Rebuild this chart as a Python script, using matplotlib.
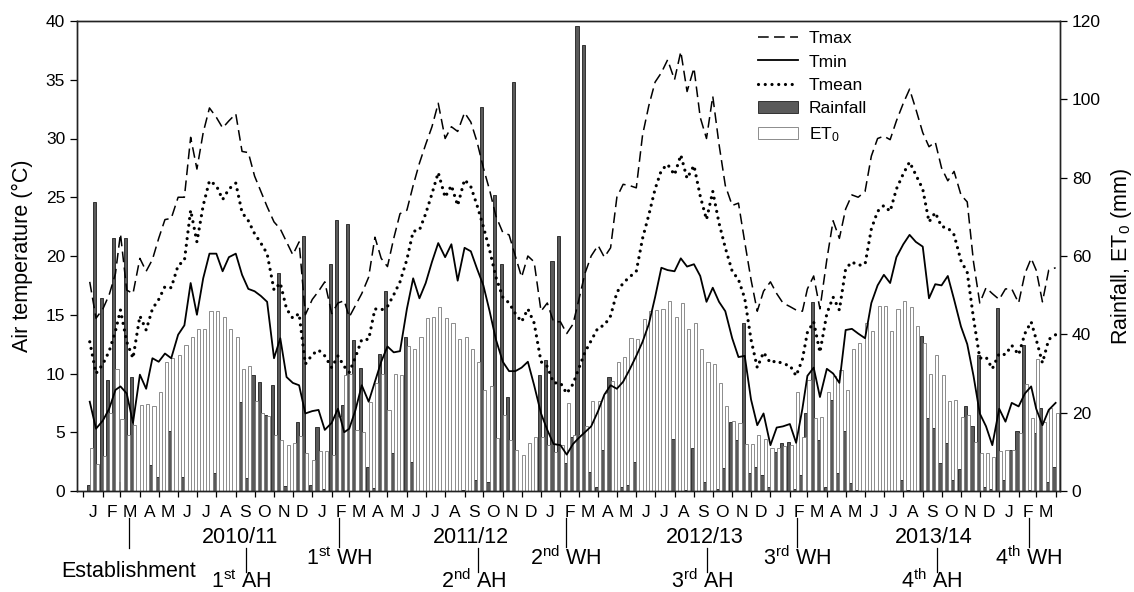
import pandas as pd
import matplotlib
matplotlib.use("Agg")
import matplotlib.pyplot as plt
import matplotlib.dates as mdates
import matplotlib.transforms as mtransforms
from matplotlib.ticker import NullFormatter, FuncFormatter, MultipleLocator

plt.rcParams["font.family"] = ["Liberation Sans", "DejaVu Sans"]
plt.rcParams["mathtext.fontset"] = "custom"
plt.rcParams["mathtext.rm"] = "Liberation Sans"
plt.rcParams["mathtext.it"] = "Liberation Sans:italic"

# ten-day (dekad) values, Jan 2010 - Mar 2014, three per month
tmax = [
    # 2010
    17.8, 14.7, 15.5, 16.7, 18.5, 21.9, 17.1, 16.8, 19.8, 18.7, 19.7, 21.5,
    23.1, 23.2, 25.0, 25.0, 30.1, 27.4, 30.5, 32.6, 31.8, 30.9, 31.5, 32.1,
    28.9, 28.8, 26.8, 25.5, 24.2, 22.9, 22.3, 21.2, 20.1, 21.2, 15.0, 16.3,
    # 2011
    17.0, 17.8, 15.1, 16.0, 16.2, 14.8, 15.8, 16.8, 18.2, 21.6, 19.8, 19.1,
    21.5, 23.6, 23.9, 26.0, 27.9, 29.5, 31.0, 33.0, 30.0, 31.0, 30.6, 32.2,
    31.4, 29.7, 27.5, 25.6, 23.4, 22.0, 21.8, 20.0, 18.2, 20.0, 19.5, 15.3,
    # 2012
    16.0, 14.4, 14.4, 13.4, 14.2, 16.2, 18.5, 20.0, 20.9, 19.9, 20.7, 25.0,
    26.1, 26.0, 25.8, 30.3, 32.8, 34.8, 35.6, 36.7, 35.0, 37.4, 34.0, 36.0,
    31.8, 30.0, 33.6, 29.5, 26.0, 24.3, 24.5, 21.2, 18.0, 15.3, 17.0, 17.8,
    # 2013
    16.8, 16.0, 15.7, 15.4, 15.3, 17.2, 18.3, 15.5, 19.7, 23.0, 21.5, 24.0,
    25.2, 25.0, 25.5, 28.5, 30.0, 30.2, 29.9, 31.5, 33.0, 34.2, 32.5, 30.5,
    29.3, 29.7, 27.5, 26.4, 27.2, 25.2, 24.6, 19.5, 16.0, 17.3, 16.8, 16.3,
    # 2014
    17.2, 17.2, 16.0, 18.5, 19.8, 18.8, 16.1, 18.8, 19.0,
]

tmin = [
    7.6, 5.3, 6.0, 7.0, 8.6, 8.9, 8.3, 5.8, 9.9, 8.7, 11.3, 11.0,
    11.7, 11.3, 13.3, 14.1, 17.7, 15.0, 18.1, 20.2, 20.2, 18.7, 19.9, 20.2,
    18.4, 17.2, 17.0, 16.6, 16.1, 11.3, 13.0, 9.7, 9.2, 9.0, 6.6, 6.8,
    6.9, 5.2, 5.8, 7.0, 5.0, 5.3, 6.9, 9.0, 7.6, 9.3, 11.0, 12.3,
    11.8, 11.9, 15.5, 18.1, 16.4, 17.7, 19.5, 21.1, 19.9, 21.0, 17.9, 20.7,
    20.4, 18.9, 17.5, 15.3, 12.9, 11.0, 10.2, 10.2, 10.5, 11.0, 9.0, 6.6,
    5.2, 4.0, 3.9, 3.1, 4.0, 4.5, 5.0, 5.5, 6.8, 8.2, 9.0, 8.7,
    9.3, 10.3, 11.5, 12.7, 14.2, 16.5, 19.0, 18.8, 18.7, 19.8, 19.1, 19.3,
    18.3, 16.1, 17.3, 16.1, 15.3, 13.0, 11.4, 11.5, 7.8, 5.6, 6.6, 3.9,
    5.4, 5.5, 5.7, 4.1, 7.0, 9.8, 10.5, 8.0, 10.4, 10.0, 9.2, 13.7,
    13.8, 13.4, 13.0, 16.0, 17.5, 18.4, 17.7, 19.9, 21.0, 21.8, 21.2, 20.8,
    16.4, 17.6, 17.5, 18.3, 16.3, 14.0, 12.5, 9.8, 6.6, 5.5, 3.9, 7.0,
    5.9, 7.5, 7.2, 8.3, 8.9, 7.0, 5.6, 6.9, 7.5,
]

tmean = [
    12.7, 10.0, 10.8, 11.9, 13.6, 15.4, 12.7, 11.3, 14.9, 13.7, 15.5, 16.3,
    17.4, 17.3, 19.2, 19.6, 23.9, 21.2, 24.3, 26.4, 26.0, 24.8, 25.7, 26.2,
    23.7, 23.0, 21.9, 21.1, 20.2, 17.1, 17.7, 15.5, 14.7, 15.1, 10.8, 11.6,
    12.0, 11.5, 10.5, 11.5, 10.6, 10.1, 11.4, 12.9, 12.9, 15.5, 15.4, 15.7,
    16.7, 17.8, 19.7, 22.1, 22.2, 23.6, 25.3, 27.1, 25.0, 26.0, 24.3, 26.5,
    25.9, 24.3, 22.5, 20.5, 18.2, 16.5, 16.0, 15.1, 14.4, 15.5, 14.3, 11.0,
    10.6, 9.2, 9.2, 8.3, 9.1, 10.4, 11.8, 12.8, 13.9, 14.1, 14.9, 16.9,
    17.7, 18.2, 18.7, 21.5, 23.5, 25.7, 27.3, 27.8, 26.9, 28.6, 26.6, 27.7,
    25.1, 23.1, 25.5, 22.8, 20.7, 18.7, 18.0, 16.4, 12.9, 10.5, 11.8, 10.9,
    11.1, 10.8, 10.7, 9.8, 11.2, 13.5, 14.4, 11.8, 15.1, 16.5, 15.4, 18.9,
    19.5, 19.2, 19.3, 22.3, 23.8, 24.3, 23.8, 25.7, 27.0, 28.0, 26.9, 25.7,
    22.9, 23.7, 22.5, 22.4, 21.8, 19.6, 18.6, 14.7, 11.3, 11.4, 10.4, 11.7,
    11.6, 12.4, 11.6, 13.4, 14.4, 12.9, 10.9, 12.9, 13.3,
]

rainfall = [
    1.5, 73.9, 49.4, 28.3, 64.7, 2.4, 64.7, 29.2, 0.0, 0.0, 6.6, 3.7,
    0.0, 15.2, 0.0, 3.7, 0.0, 0.0, 0.0, 0.0, 4.5, 0.0, 0.0, 0.0,
    22.8, 3.3, 29.6, 27.9, 19.4, 27.0, 55.6, 1.2, 0.0, 17.5, 65.0, 1.5,
    16.4, 0.6, 57.9, 69.2, 22.0, 68.2, 38.6, 31.3, 6.2, 0.8, 35.1, 51.1,
    9.6, 0.0, 39.4, 7.5, 0.0, 0.0, 0.0, 0.0, 0.0, 0.0, 0.0, 0.3,
    0.0, 2.8, 98.1, 2.4, 75.6, 57.9, 24.1, 104.5, 0.0, 0.0, 0.0, 29.6,
    33.4, 58.7, 65.2, 7.1, 13.9, 118.8, 114.0, 4.9, 1.0, 10.5, 29.2, 0.0,
    1.0, 1.5, 7.5, 0.0, 0.0, 0.0, 0.0, 0.0, 13.4, 0.0, 0.3, 10.9,
    0.0, 2.4, 0.0, 0.5, 5.8, 17.7, 13.0, 42.8, 4.5, 6.2, 4.0, 1.0,
    10.0, 12.2, 12.4, 0.6, 4.0, 19.9, 48.2, 13.0, 1.0, 23.3, 4.5, 15.4,
    2.1, 0.3, 0.0, 0.0, 0.0, 0.0, 0.0, 0.0, 2.7, 0.2, 0.0, 39.6,
    18.6, 16.0, 7.1, 12.2, 2.7, 5.7, 21.8, 16.5, 34.7, 1.0, 0.4, 46.6,
    2.7, 10.5, 15.2, 37.4, 0.3, 14.7, 21.2, 2.3, 6.2,
]

et0 = [
    11.1, 6.9, 9.0, 19.8, 31.2, 18.3, 14.4, 16.8, 21.9, 22.2, 21.6, 25.2,
    33.0, 33.9, 34.8, 37.2, 39.3, 41.4, 41.4, 45.9, 45.9, 44.4, 41.4, 39.3,
    31.2, 31.8, 23.1, 19.8, 19.2, 14.4, 12.9, 11.7, 12.3, 14.1, 9.6, 7.8,
    10.2, 10.2, 9.3, 18.9, 29.7, 30.0, 15.6, 15.0, 22.8, 27.6, 30.0, 20.7,
    30.0, 29.7, 36.9, 36.3, 39.3, 44.1, 44.4, 47.1, 44.1, 42.9, 38.7, 39.3,
    36.3, 33.0, 25.8, 26.7, 13.5, 19.5, 12.9, 10.5, 9.3, 12.3, 13.8, 13.8,
    11.7, 9.9, 11.7, 22.5, 14.4, 14.4, 16.5, 23.1, 23.1, 24.9, 28.2, 33.0,
    34.2, 39.0, 38.7, 43.8, 45.9, 46.2, 46.5, 48.6, 44.4, 48.0, 41.4, 42.9,
    36.3, 33.0, 32.4, 27.6, 21.6, 18.0, 17.4, 12.0, 12.0, 14.4, 13.2, 10.9,
    11.0, 11.5, 11.7, 25.4, 13.9, 28.4, 18.6, 19.0, 25.4, 29.3, 31.0, 25.9,
    36.2, 37.9, 43.0, 40.9, 47.3, 47.3, 40.9, 46.4, 48.6, 46.9, 42.2, 37.9,
    30.0, 34.6, 29.7, 22.9, 23.3, 19.0, 19.5, 12.6, 9.6, 9.6, 8.7, 10.2,
    10.5, 10.5, 14.7, 27.2, 18.6, 33.6, 17.5, 21.2, 20.0,
]

# field events drawn under the axis
seasons = ["2010/11", "2011/12", "2012/13", "2013/14"]
season_dates = ["2010-09-07", "2011-09-11", "2012-09-19", "2013-09-18"]
est_date = "2010-03-14"
ah_labels = ["1$^{\\mathrm{st}}$ AH", "2$^{\\mathrm{nd}}$ AH",
             "3$^{\\mathrm{rd}}$ AH", "4$^{\\mathrm{th}}$ AH"]
ah_dates = ["2010-09-18", "2011-09-23", "2012-09-22", "2013-09-23"]
wh_labels = ["1$^{\\mathrm{st}}$ WH", "2$^{\\mathrm{nd}}$ WH",
             "3$^{\\mathrm{rd}}$ WH", "4$^{\\mathrm{th}}$ WH"]
wh_dates = ["2011-02-13", "2012-02-10", "2013-02-13", "2014-02-17"]

# dekad end dates
months = pd.period_range("2010-01", "2014-03", freq="M")
dekads = []
for p in months:
    s = p.start_time
    dekads += [s + pd.Timedelta(days=10), s + pd.Timedelta(days=20), (p + 1).start_time]
x = pd.DatetimeIndex(dekads)

fig = plt.figure(figsize=(11.34, 5.92), dpi=100)
ax = fig.add_axes([77 / 1134, 1 - 491 / 592, 983 / 1134, 470 / 592])
ax2 = ax.twinx()

bar_w = 5.0  # days
ax2.bar(x - pd.Timedelta(days=bar_w / 2), rainfall, width=bar_w, color="#5a5a5a",
        edgecolor="#1e1e1e", linewidth=0.6, label="Rainfall")
ax2.bar(x + pd.Timedelta(days=bar_w / 2), et0, width=bar_w, color="white",
        edgecolor="#7a7a7a", linewidth=0.6, label="ET$_0$")

ax.plot(x, tmax, color="black", lw=1.1, dashes=(7, 3.5), label="Tmax")
ax.plot(x, tmin, color="black", lw=1.3, label="Tmin")
ax.plot(x, tmean, color="black", lw=2.3, linestyle=(0, (0.01, 2.1)),
        dash_capstyle="round", label="Tmean")

ax.set_zorder(ax2.get_zorder() + 1)
ax.patch.set_visible(False)

ax.set_xlim(pd.Timestamp("2009-12-21 16:00"), pd.Timestamp("2014-04-08"))
ax.set_ylim(0, 40)
ax2.set_ylim(0, 120)
ax.yaxis.set_major_locator(MultipleLocator(5))
ax2.yaxis.set_major_locator(MultipleLocator(20))

ax.xaxis.set_major_locator(mdates.MonthLocator())
ax.xaxis.set_major_formatter(NullFormatter())
ax.xaxis.set_minor_locator(mdates.MonthLocator(bymonthday=16))
ax.xaxis.set_minor_formatter(FuncFormatter(lambda v, pos: mdates.num2date(v).strftime("%b")[0]))
ax.tick_params(axis="x", which="major", direction="out", length=4.5, width=0.9)
ax.tick_params(axis="x", which="minor", length=0, labelsize=12.5, pad=10)
ax.tick_params(axis="y", direction="out", length=5, width=0.9, labelsize=12.5)
ax2.tick_params(axis="y", direction="out", length=5, width=0.9, labelsize=12.5)

for a in (ax, ax2):
    for sp in a.spines.values():
        sp.set_linewidth(1.0)
        sp.set_color("#222222")

ax.set_ylabel("Air temperature (°C)", fontsize=15.5)
ax.yaxis.set_label_coords(-0.045, 0.5)
ax2.set_ylabel("Rainfall, ET$_0$ (mm)", fontsize=15.5)
ax2.yaxis.set_label_coords(1.05, 0.5)

h1, l1 = ax.get_legend_handles_labels()
h2, l2 = ax2.get_legend_handles_labels()
ax.legend(h1 + h2, l1 + l2, loc="upper left", bbox_to_anchor=(0.693, 0.979),
          frameon=False, fontsize=12.5, handlelength=2.3, handletextpad=0.6,
          labelspacing=0.48, borderpad=0, borderaxespad=0)

# annotations under the axis
trans = mtransforms.blended_transform_factory(ax.transData, fig.transFigure)
fs = 15.5
for lab, d in zip(seasons, season_dates):
    ax.text(pd.Timestamp(d), 0.083, lab, transform=trans, ha="center",
            va="baseline", fontsize=fs, clip_on=False)

d = pd.Timestamp(est_date)
ax.plot([d, d], [0.1245, 0.0743], transform=trans, color="black", lw=0.9, clip_on=False)
ax.text(d, 0.0253, "Establishment", transform=trans, ha="center", va="baseline",
        fontsize=fs, clip_on=False)

ah_trans = mtransforms.offset_copy(trans, fig=fig, x=-5, units="dots")
for lab, d in zip(ah_labels, ah_dates):
    d = pd.Timestamp(d)
    ax.plot([d, d], [0.0743, 0.034], transform=trans, color="black", lw=0.9, clip_on=False)
    ax.text(d, 0.0075, lab, transform=ah_trans, ha="center", va="baseline",
            fontsize=fs, clip_on=False)

for lab, d in zip(wh_labels, wh_dates):
    d = pd.Timestamp(d)
    ax.plot([d, d], [0.125, 0.076], transform=trans, color="black", lw=0.9, clip_on=False)
    ax.text(d, 0.0456, lab, transform=trans, ha="center", va="baseline",
            fontsize=fs, clip_on=False)

fig.savefig("out.png", dpi=100)
